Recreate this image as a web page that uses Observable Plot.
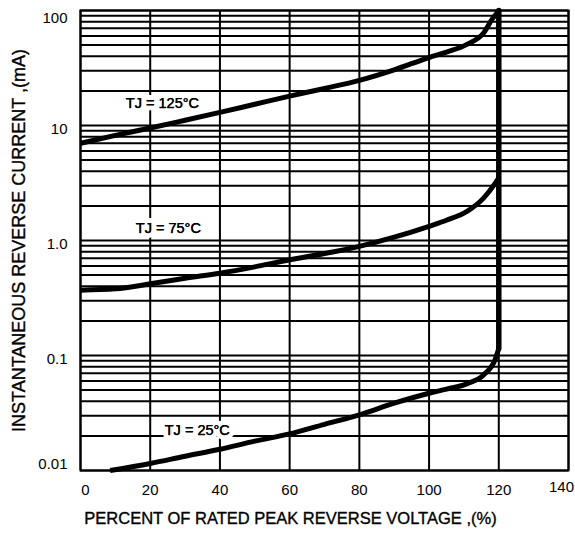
<!DOCTYPE html>
<html>
<head>
<meta charset="utf-8">
<script src="https://cdn.jsdelivr.net/npm/d3@7"></script>
<script src="https://cdn.jsdelivr.net/npm/@observablehq/plot@0.6"></script>
<style>
  html, body { margin: 0; padding: 0; background: #fff; }
  #chart { width: 575px; height: 535px; }
</style>
</head>
<body>
<div id="chart"></div>
<script>
// X tick values and labels
const xTicks = [0, 20, 40, 60, 80, 100, 120, 140];
const xTicksMid = [20, 40, 60, 80, 100, 120];
// Y tick values and labels (log scale, mA)
const yTicks = [0.01, 0.1, 1, 10, 100];
const yTickLabels = ["0.01", "0.1", "1.0", "10", "100"];
const yTicksMid = [0.1, 1, 10];
// log grid multipliers and decades
const gridMultipliers = [1, 2, 3, 4, 5, 6, 7, 8, 9];
const gridDecades = [0.01, 0.1, 1, 10];

// TJ = 125°C curve
const x125 = [0, 10, 20, 30, 40, 50, 60, 70, 80, 90, 100, 105, 111, 115.7, 118.2, 119.5, 120];
const y125 = [7.0, 8.2, 9.5, 11.1, 13.0, 15.3, 18.0, 21.0, 24.7, 30.5, 39, 43.5, 51, 64, 85, 95, 100];

// TJ = 75°C curve
const x75 = [0, 10, 20, 30, 40, 50, 60, 70, 80, 90, 100, 105, 111, 115.7, 119, 120];
const y75 = [0.37, 0.38, 0.42, 0.47, 0.52, 0.59, 0.68, 0.77, 0.89, 1.07, 1.33, 1.5, 1.8, 2.35, 3.15, 3.5];

// TJ = 25°C curve
const x25 = [8.5, 20, 30, 40, 50, 60, 70, 80, 90, 100, 105, 111, 115.7, 119, 120];
const y25 = [0.01, 0.0115, 0.0133, 0.0153, 0.018, 0.0208, 0.0252, 0.0305, 0.0385, 0.047, 0.051, 0.057, 0.068, 0.093, 0.115];

// Breakdown (vertical) line at 120 %
const xBreak = [120, 120];
const yBreak = [0.115, 100];

// Curve labels
const labelText = ["TJ = 125°C", "TJ = 75°C", "TJ = 25°C"];
const labelX = [23.5, 25.2, 33.5];
const labelY = [15.5, 1.27, 0.0223];

const xLabel = "PERCENT OF RATED PEAK REVERSE VOLTAGE ,(%)";
const yLabel = "INSTANTANEOUS REVERSE CURRENT ,(mA)";

const toRows = (xs, ys) => xs.map((x, i) => ({x, y: ys[i]}));
const gridY = gridDecades.flatMap(d => gridMultipliers.map(m => +(d * m).toPrecision(3))).concat([100]);
const labels = labelText.map((t, i) => ({t, x: labelX[i], y: labelY[i]}));
const fmtY = new Map(yTicks.map((v, i) => [v, yTickLabels[i]]));

const font = "Liberation Sans, Arial, Helvetica, sans-serif";
const tickStyle = {tickSize: 0, tickPadding: 13, fontSize: 15, label: null, stroke: "#000", strokeWidth: 0.35};
const lineStyle = {x: "x", y: "y", stroke: "#000", strokeWidth: 5, strokeLinejoin: "round", strokeLinecap: "butt", curve: "monotone-x"};

const chart = Plot.plot({
  width: 575,
  height: 535,
  marginLeft: 80,
  marginRight: 7,
  marginTop: 10,
  marginBottom: 65,
  style: {fontFamily: font, background: "#fff", color: "#000"},
  x: {domain: [0, 140]},
  y: {type: "log", domain: [0.01, 100]},
  marks: [
    Plot.ruleY(gridY, {stroke: "#000", strokeWidth: 2}),
    Plot.ruleX(xTicks, {stroke: "#000", strokeWidth: 2}),
    Plot.frame({stroke: "#000", strokeWidth: 2}),
    Plot.text(labels, {x: "x", y: "y", text: "t", fill: "#000", stroke: "#fff", strokeWidth: 10, fontSize: 14.5, fontFamily: font}),
    Plot.text(labels, {x: "x", y: "y", text: "t", fill: "#000", stroke: "#000", strokeWidth: 0.25, fontSize: 14.5, fontFamily: font}),
    Plot.line(toRows(x125, y125), lineStyle),
    Plot.line(toRows(x75, y75), lineStyle),
    Plot.line(toRows(x25, y25), lineStyle),
    Plot.line(toRows(xBreak, yBreak), {x: "x", y: "y", stroke: "#000", strokeWidth: 5.5}),
    Plot.axisX({...tickStyle, ticks: xTicksMid, tickPadding: 14, tickFormat: d => String(d)}),
    Plot.axisX({...tickStyle, ticks: [0], tickPadding: 14, dx: 5, tickFormat: d => String(d)}),
    Plot.axisX({...tickStyle, ticks: [140], tickPadding: 11, dx: -7, tickFormat: d => String(d)}),
    Plot.axisY({...tickStyle, ticks: yTicksMid, dy: 4, tickFormat: d => fmtY.get(d)}),
    Plot.axisY({...tickStyle, ticks: [100], dy: 8, tickFormat: d => fmtY.get(d)}),
    Plot.axisY({...tickStyle, ticks: [0.01], dy: -6, tickFormat: d => fmtY.get(d)}),
    Plot.text([xLabel], {frameAnchor: "bottom", dy: 53, dx: -34, textAnchor: "middle", fontSize: 16.5, fill: "#000", stroke: "#000", strokeWidth: 0.35, fontFamily: font}),
    Plot.text([yLabel], {frameAnchor: "left", dx: -61, rotate: -90, textAnchor: "middle", fontSize: 18, fill: "#000", stroke: "#000", strokeWidth: 0.35, fontFamily: font})
  ]
});
document.getElementById("chart").appendChild(chart);
</script>
</body>
</html>
